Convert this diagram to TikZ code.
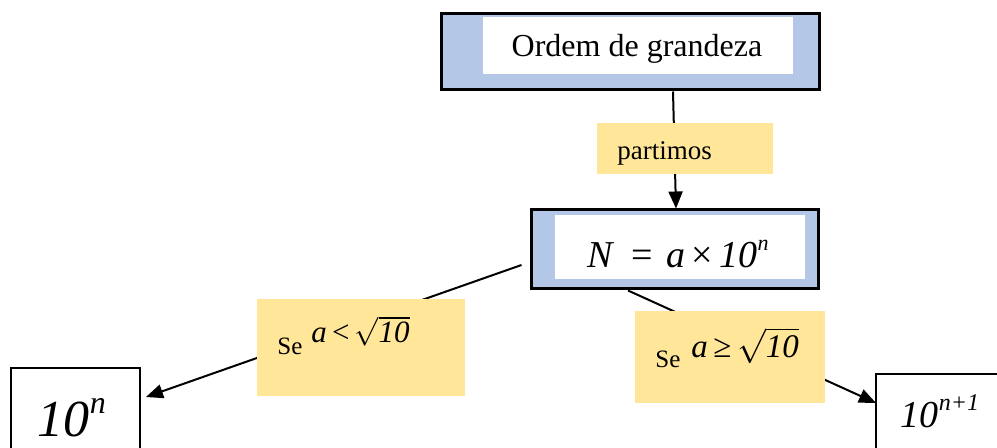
\documentclass[tikz,border=0pt]{standalone}
\usepackage{fontspec}
\setmainfont{Liberation Serif}
\usetikzlibrary{arrows.meta,calc}
\definecolor{boxblue}{HTML}{B4C7E7}
\definecolor{tagyellow}{HTML}{FFE699}

\begin{document}
\begin{tikzpicture}[x=0.5pt,y=-0.5pt,
  frame/.style={draw=black,line width=1.5pt,fill=boxblue,inner sep=0pt},
  pane/.style={fill=white,inner sep=0pt},
  plain/.style={draw=black,line width=1pt,fill=white,inner sep=0pt},
  tag/.style={fill=tagyellow,inner sep=0pt},
  words/.style={inner sep=0pt},
  link/.style={line width=1pt,-{Triangle[length=8.5pt,width=7pt]}}]
\clip (0,0) rectangle (997,448);
% boxes
\node[frame,minimum width=189pt,minimum height=38pt] (top) at (630,52) {};
\node[pane,minimum width=155pt,minimum height=28.5pt] (toppane) at (638,45.5) {};
\node[frame,minimum width=143.5pt,minimum height=39.5pt] (mid) at (674.5,249.5) {};
\node[pane,minimum width=125pt,minimum height=32pt] (midpane) at (680,247) {};
\node[plain,minimum width=64.5pt,minimum height=52pt] (low) at (75.5,420) {};
\node[plain,minimum width=67pt,minimum height=48pt] (high) at (943,422) {};
% connectors
\draw[link] ($(top.south)+(43,0)$) -- ($(mid.north)+(1.5,0)$);
\draw[link] ($(mid.west)+(-8,15.5)$) -- ($(low.east)+(5,-23)$);
\draw[link] ($(mid.south)+(-46.5,0)$) -- ($(high.west)+(1,-19)$);
% labels on the connectors
\node[tag,minimum width=88pt,minimum height=25.5pt] (tagpart) at (685,148.5) {};
\node[tag,minimum width=104pt,minimum height=48.5pt] (taglow) at (361,347.5) {};
\node[tag,minimum width=95pt,minimum height=46pt] (taghigh) at (730,357) {};
% texts
\node[words,anchor=base,font=\fontsize{16}{19}\selectfont] (toptext) at (637,57) {Ordem de grandeza};
\node[words,anchor=base,font=\fontsize{19}{22}\selectfont] (midtext) at (678,268) {\textit{N}\hspace{0.45em}=\hspace{0.35em}\textit{a}\,×\,\textit{10}\raisebox{0.45em}{\fontsize{11}{13}\selectfont\textit{n}}};
\node[words,anchor=base,font=\fontsize{26}{30}\selectfont] (lowtext) at (72,437) {\textit{10}\raisebox{0.45em}{\fontsize{16}{19}\selectfont\textit{n}}};
\node[words,anchor=base,font=\fontsize{19}{22}\selectfont] (hightext) at (940,428) {\textit{10}\raisebox{0.45em}{\fontsize{12}{14}\selectfont\textit{n+1}}};
\node[words,anchor=base west,font=\fontsize{13.5}{16}\selectfont] (parttext) at (617,160) {partimos};
\node[words,anchor=base west,font=\fontsize{12.5}{15}\selectfont] (lowse) at (277,355) {Se};
\node[words,anchor=base west,font=\fontsize{15.5}{18}\selectfont] (lowcond) at (311,343) {\textit{a}\,<\,$\sqrt{\mbox{\textit{10}}}$};
\node[words,anchor=base west,font=\fontsize{12.5}{15}\selectfont] (highse) at (655,368) {Se};
\node[words,anchor=base west,font=\fontsize{16.5}{19}\selectfont] (highcond) at (691,358) {\textit{a}\,≥\,$\sqrt{\mbox{\textit{10}}}$};
\end{tikzpicture}
\end{document}
